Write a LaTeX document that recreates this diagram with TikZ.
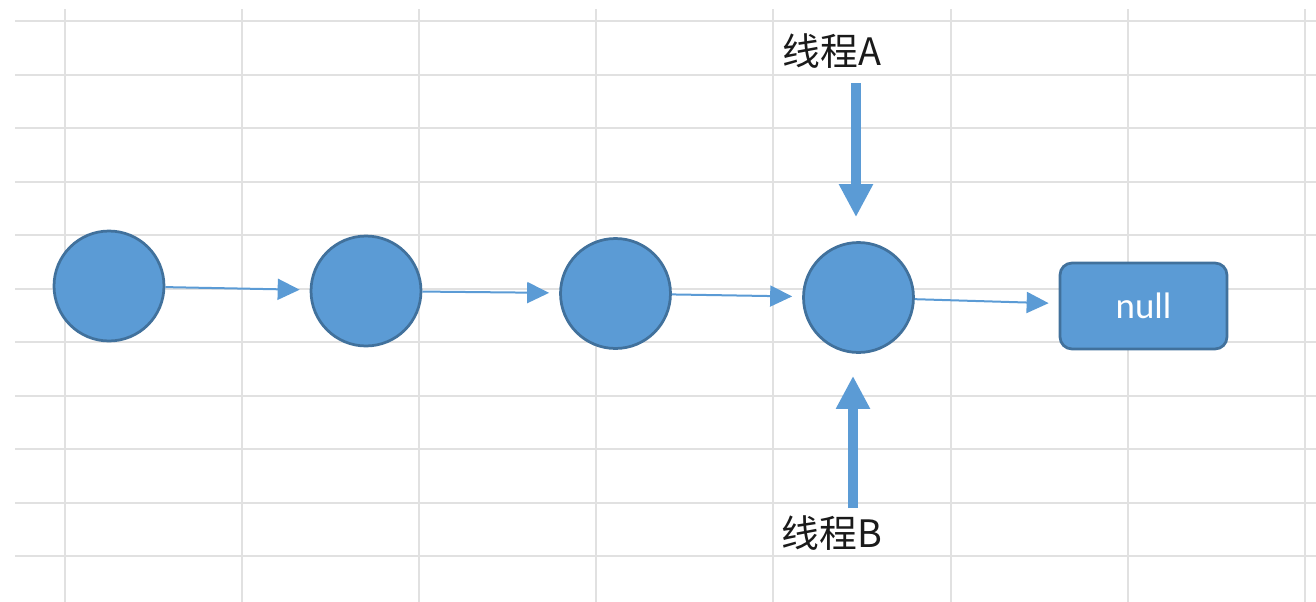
\documentclass[tikz,border=0pt]{standalone}
\usepackage{fontspec}
\newfontfamily\cjk{Noto Sans CJK SC}
\newfontfamily\boxfont{Carlito}
\usetikzlibrary{arrows.meta}

\definecolor{gridgray}{HTML}{E1E1E1}
\definecolor{nodeblue}{HTML}{5B9BD5}
\definecolor{edgeblue}{HTML}{41719C}
\definecolor{textgray}{HTML}{1A1A1A}

\tikzset{
  listnode/.style={draw=edgeblue, fill=nodeblue, circle, line width=0.055cm,
                   minimum size=2.2cm, inner sep=0pt},
  nullbox/.style={draw=edgeblue, fill=nodeblue, rounded corners=0.24cm,
                  line width=0.055cm, minimum width=3.34cm, minimum height=1.72cm,
                  text=white, font=\boxfont\fontsize{21}{24}\selectfont},
  link/.style={nodeblue, line width=0.04cm,
               -{Triangle[length=0.44cm, width=0.42cm]}, shorten >=0.2cm},
  thread/.style={nodeblue, line width=0.2cm,
                 -{Triangle[length=0.66cm, width=0.64cm]}},
  threadlabel/.style={text=textgray, font=\cjk\fontsize{21.5}{24}\selectfont}
}

\begin{document}
\begin{tikzpicture}[x=0.02cm, y=-0.02cm]
    \useasboundingbox (0, 0) rectangle (1316, 602);

    % Grid
    \foreach \k in {0, ..., 7} {
      \draw [gridgray, line width=0.04cm] ({64.5 + 177.2*\k}, 9) -- ({64.5 + 177.2*\k}, 602);
    }
    \foreach \k in {0, ..., 10} {
      \draw [gridgray, line width=0.04cm] (15, {21 + 53.5*\k}) -- (1316, {21 + 53.5*\k});
    }

    % List nodes
    \foreach \i/\x/\y in {0/109/286, 1/366/291, 2/615.5/293.5, 3/858.5/297.5} {
      \node [listnode] (n\i) at (\x, \y) {};
    }
    \node [nullbox] (null) at (1143.5, 306) {null};

    % Links
    \foreach \i/\j in {0/1, 1/2, 2/3} {
      \draw [link] (n\i) -- (n\j);
    }
    \draw [link] (n3) -- (null);

    % Threads
    \node [threadlabel] (tA) at (832, 51) {线程A};
    \node [threadlabel] (tB) at (832, 533) {线程B};
    \coordinate (aTop) at (856, 83);
    \coordinate (bBot) at (853, 508);
    \draw [thread, shorten >=0.48cm] (aTop) -- (aTop |- n3.north);
    \draw [thread, shorten >=0.44cm] (bBot) -- (bBot |- n3.south);
\end{tikzpicture}
\end{document}
